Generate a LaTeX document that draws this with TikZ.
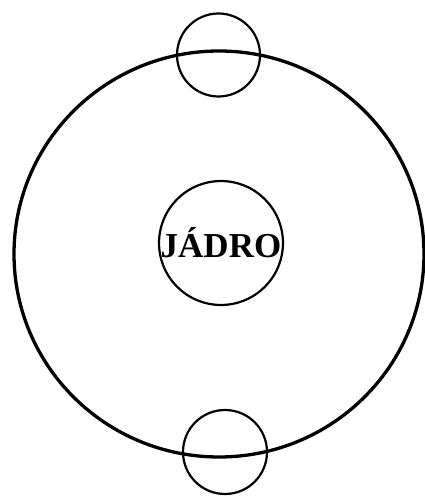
\documentclass[tikz,border=0pt]{standalone}
\usepackage{fontspec}
\setmainfont{Liberation Serif}
\usetikzlibrary{positioning}
\tikzset{
  every picture/.style={line width=2pt, x=1pt, y=1pt},
  orbit/.style={draw=black, line width=3.3pt},
  shell/.style={draw=black, circle, line width=2.2pt, minimum size=#1, inner sep=0pt},
  shell/.default=83pt,
  core/.style={draw=black, circle, line width=2.2pt, minimum size=116pt, inner sep=0pt, font=\fontsize{35}{39}\selectfont\bfseries},
}
\begin{document}
\begin{tikzpicture}
  \useasboundingbox (0,0) rectangle (425,496);
  % orbit
  \coordinate (orbc) at (219,242);
  \draw[orbit] (orbc) ellipse [x radius=205, y radius=203];
  % nucleus
  \node[core] (jadro) at (221,253) {JÁDRO};
  % electrons on the orbit
  \node[shell] (etop) at (218.5,441) {};
  \node[shell=84pt] (ebot) at (225,44) {};
\end{tikzpicture}
\end{document}
